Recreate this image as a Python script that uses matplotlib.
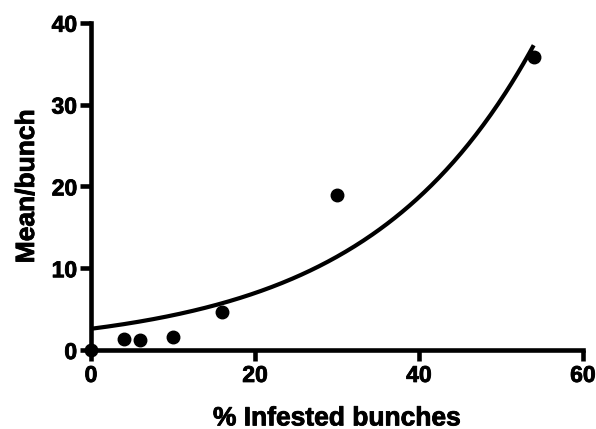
import numpy as np
import matplotlib
matplotlib.use("Agg")
import matplotlib.pyplot as plt
import matplotlib.patheffects as pe

plt.rcParams['font.family'] = ['Liberation Sans', 'DejaVu Sans']
plt.rcParams['font.weight'] = 'bold'

# Observed data
infested_pct = [0, 4, 6, 10, 16, 30, 54]
mean_per_bunch = [0, 1.3, 1.2, 1.6, 4.7, 19.0, 35.8]

# Exponential growth fit: y = y0 * exp(k * x)
fit_y0 = 2.6
fit_k = 0.0493
fit_x_range = [0, 54]

x_ticks = [0, 20, 40, 60]
y_ticks = [0, 10, 20, 30, 40]

fig = plt.figure(figsize=(5.96, 4.29), dpi=100)
ax = fig.add_axes([0.1527, 0.184, 0.8253, 0.763])

xf = np.linspace(fit_x_range[0], fit_x_range[1], 300)
ax.plot(xf, fit_y0 * np.exp(fit_k * xf), color='black', lw=3.0, solid_capstyle='butt', zorder=3)
ax.plot(infested_pct, mean_per_bunch, 'o', color='black', markersize=9, clip_on=False, zorder=4)

ax.set_xlim(0, 60)
ax.set_ylim(0, 40)
ax.set_xticks(x_ticks)
ax.set_yticks(y_ticks)

for side in ['top', 'right']:
    ax.spines[side].set_visible(False)
for side in ['left', 'bottom']:
    ax.spines[side].set_linewidth(3.3)
    ax.spines[side].set_capstyle('projecting')

heavy = [pe.withStroke(linewidth=0.6, foreground='black')]
ax.tick_params(axis='both', width=3.3, length=8, labelsize=16.5, pad=2)
for lab in ax.get_xticklabels() + ax.get_yticklabels():
    lab.set_fontweight('bold')
    lab.set_path_effects(heavy)

ax.set_xlabel('% Infested bunches', fontsize=19, fontweight='bold', labelpad=14,
              path_effects=heavy)
ax.set_ylabel('Mean/bunch', fontsize=19, fontweight='bold', labelpad=9,
              path_effects=heavy)

fig.savefig('out.png', dpi=100)
